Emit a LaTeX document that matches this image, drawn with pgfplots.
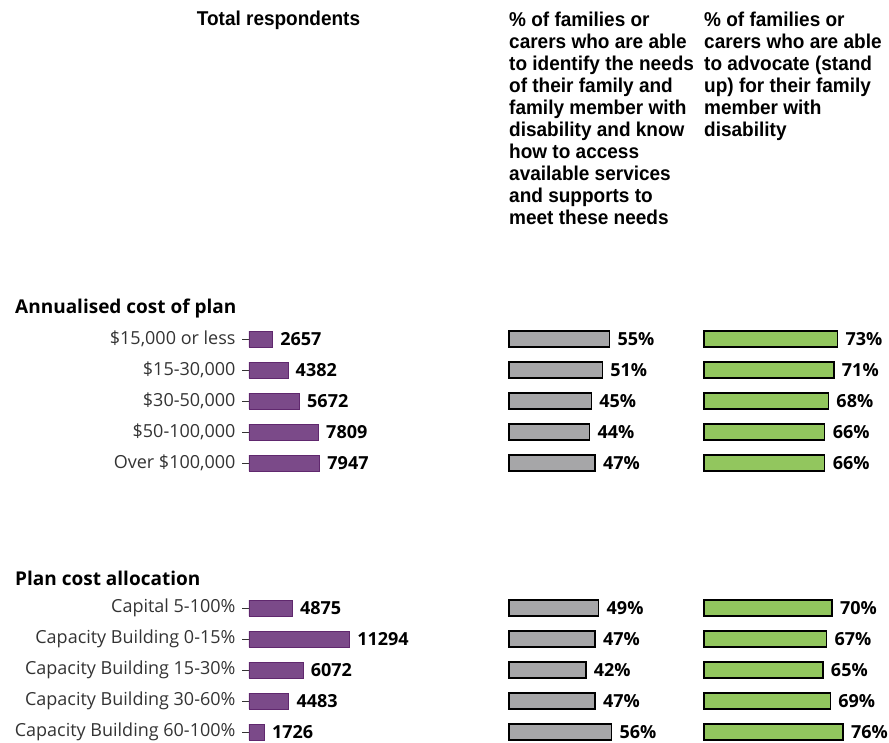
\documentclass[border=0pt]{standalone}
\usepackage{fontspec}
\setmainfont{Open Sans}
\newfontfamily\hdr[FakeStretch=0.95]{Liberation Sans}
\usepackage{pgfplots}
\pgfplotsset{compat=1.18}
\definecolor{purp}{RGB}{123,74,137}
\definecolor{purpedge}{RGB}{96,40,110}
\definecolor{greyfill}{RGB}{166,166,168}
\definecolor{greenfill}{RGB}{146,198,94}
\definecolor{lab}{RGB}{51,51,51}
\pgfplotsset{
  panel/.style={
    xbar, scale only axis, height=450pt,
    y dir=reverse, ymin=295, ymax=745, xmin=0,
    enlargelimits=false, bar width=16, clip=false,
    axis line style={draw=none}, xtick=\empty,
    nodes near coords, nodes near coords align=horizontal,
    every node near coord/.append style={font=\bfseries\fontsize{18}{20}\selectfont, black, xshift=4pt},
    /pgf/number format/.cd, fixed, precision=0, 1000 sep={}, assume math mode=true,
  }
}
\begin{document}
\begin{tikzpicture}
\useasboundingbox (0pt,0pt) rectangle (889pt,-742pt);
% Panel 1
\begin{axis}[panel, at={(249pt,-295pt)}, anchor=north west, width=178pt, xmax=20000,
  ytick={339,370,401,432,463,608,639,670,701,732},
  yticklabels={{\$15,000 or less},{\$15-30,000},{\$30-50,000},{\$50-100,000},{Over \$100,000},
    {Capital 5-100\%},{Capacity Building 0-15\%},{Capacity Building 15-30\%},{Capacity Building 30-60\%},{Capacity Building 60-100\%}},
  ytick pos=left, tick align=outside, major tick length=7pt,
  ytick style={draw=lab, line width=0.9pt},
  yticklabel style={font=\fontsize{18}{20}\selectfont, text=lab, xshift=-3pt},
]
\addplot[fill=purp, draw=purpedge, line width=0.8pt] coordinates {
 (2657,339) (4382,370) (5672,401) (7809,432) (7947,463)
 (4875,608) (11294,639) (6072,670) (4483,701) (1726,732)};
\end{axis}
% Panel 2
\begin{axis}[panel, at={(509pt,-295pt)}, anchor=north west, width=183pt, xmax=100, ytick=\empty,
  nodes near coords={\pgfmathprintnumber{\pgfplotspointmeta}\%}]
\addplot[fill=greyfill, draw=black, line width=1.4pt] coordinates {
 (55,339) (51,370) (45,401) (44,432) (47,463)
 (49,608) (47,639) (42,670) (47,701) (56,732)};
\end{axis}
% Panel 3
\begin{axis}[panel, at={(704pt,-295pt)}, anchor=north west, width=183pt, xmax=100, ytick=\empty,
  nodes near coords={\pgfmathprintnumber{\pgfplotspointmeta}\%}]
\addplot[fill=greenfill, draw=black, line width=1.4pt] coordinates {
 (73,339) (71,370) (68,401) (66,432) (66,463)
 (70,608) (67,639) (65,670) (69,701) (76,732)};
\end{axis}
% headers
\node[font=\hdr\bfseries\fontsize{20}{22}\selectfont] at (278.5pt,-20pt) {Total respondents};
\node[anchor=north west, inner sep=0pt, align=left, font=\hdr\bfseries\fontsize{20}{22}\selectfont] at (509pt,-12pt)
 {\% of families or\\carers who are able\\to identify the needs\\of their family and\\family member with\\disability and know\\how to access\\available services\\and supports to\\meet these needs};
\node[anchor=north west, inner sep=0pt, align=left, font=\hdr\bfseries\fontsize{20}{22}\selectfont] at (704pt,-12pt)
 {\% of families or\\carers who are able\\to advocate (stand\\up) for their family\\member with\\disability};
\node[anchor=west, inner sep=0pt, font=\bfseries\fontsize{19}{20}\selectfont] at (15pt,-309pt) {Annualised cost of plan};
\node[anchor=west, inner sep=0pt, font=\bfseries\fontsize{19}{20}\selectfont] at (15pt,-578pt) {Plan cost allocation};
\end{tikzpicture}
\end{document}
